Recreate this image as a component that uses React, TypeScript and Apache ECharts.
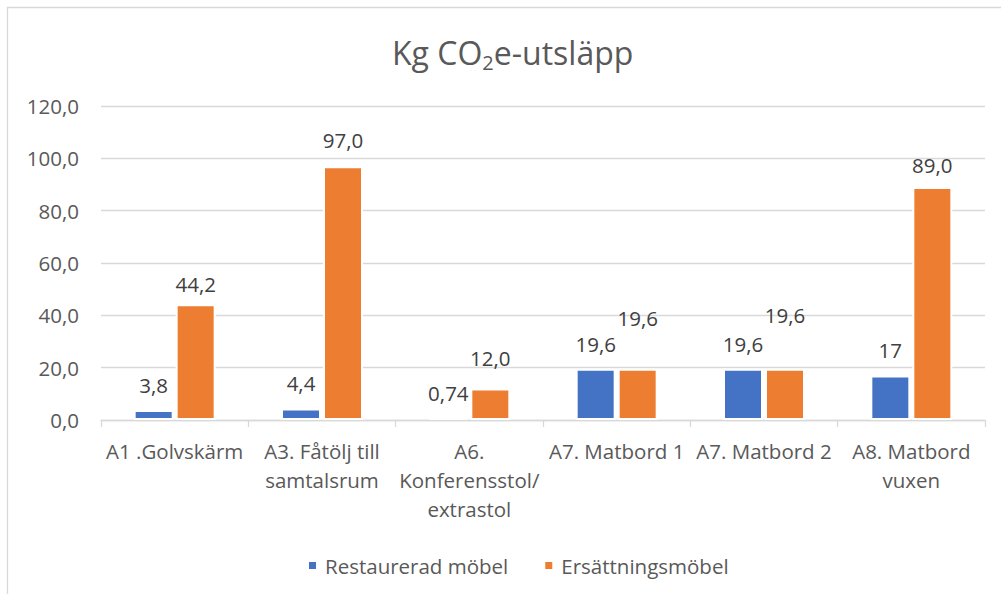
import React, { useEffect, useRef } from "react";
import * as echarts from "echarts";

const categories = [
  "A1 .Golvskärm",
  "A3. Fåtölj till\nsamtalsrum",
  "A6.\nKonferensstol/\nextrastol",
  "A7. Matbord 1",
  "A7. Matbord 2",
  "A8. Matbord\nvuxen",
];
const seriesNames = ["Restaurerad möbel", "Ersättningsmöbel"];
const restaurerad = [3.8, 4.4, 0.74, 19.6, 19.6, 17];
const ersattning = [44.2, 97.0, 12.0, 19.6, 19.6, 89.0];
const yTicks = { min: 0, max: 120, interval: 20 };

// label vertical nudges (layout only)
const blueLabelDy = [0, 0, 0, 0, 0, -1];
const orangeLabelDy = [5, -1, -6, -26, -29, 3];

const FONT = "'Open Sans', sans-serif";
const GRAY = "#595959";
const DARK = "#404040";
const FS = 20.5;

export default function App() {
  const ref = useRef<HTMLDivElement>(null);
  useEffect(() => {
    if (!ref.current) return;
    const chart = echarts.init(ref.current, undefined, { renderer: "svg" });
    const labelBase = {
      show: true,
      position: "top",
      distance: 14,
      fontFamily: FONT,
      fontSize: FS,
      lineHeight: 22,
      color: DARK,
    };
    chart.setOption({
      animation: false,
      backgroundColor: "#fff",
      textStyle: { fontFamily: FONT },
      title: {
        left: 387,
        top: 27,
        text: "{a|Kg CO}{b|2}{a|e-utsläpp}",
        textStyle: {
          fontWeight: "normal",
          rich: {
            a: { fontFamily: FONT, fontSize: 32, fontWeight: "normal", color: GRAY, lineHeight: 40 },
            b: { fontFamily: FONT, fontSize: 20, fontWeight: "normal", color: GRAY, lineHeight: 26, verticalAlign: "bottom" },
          },
        },
      },
      graphic: [
        {
          type: "rect",
          shape: { x: 7.5, y: 7.5, width: 1200, height: 800 },
          style: { fill: "none", stroke: "#d9d9d9", lineWidth: 1.3 },
          silent: true,
        },
      ],
      legend: {
        left: 302,
        top: 550,
        itemWidth: 9,
        itemHeight: 9,
        itemGap: 35,
        icon: "rect",
        textStyle: { fontFamily: FONT, fontSize: FS, color: GRAY, padding: [0, 0, 0, 3] },
        data: seriesNames,
      },
      grid: { left: 101, right: 16, top: 106, bottom: 174, containLabel: false },
      xAxis: {
        type: "category",
        data: categories,
        axisLine: { lineStyle: { color: "#d9d9d9", width: 1.3 } },
        axisTick: { show: true, length: 7, lineStyle: { color: "#d9d9d9", width: 1.3 } },
        axisLabel: {
          interval: 0,
          margin: 16,
          fontFamily: FONT,
          fontSize: FS,
          lineHeight: 29,
          color: GRAY,
        },
      },
      yAxis: {
        type: "value",
        min: yTicks.min,
        max: yTicks.max,
        interval: yTicks.interval,
        axisLine: { show: false },
        axisTick: { show: false },
        splitLine: { lineStyle: { color: "#d9d9d9", width: 1.3 } },
        axisLabel: {
          margin: 22,
          fontFamily: FONT,
          fontSize: FS,
          color: GRAY,
          formatter: (v: number) => v.toFixed(1).replace(".", ","),
        },
      },
      series: [
        {
          name: seriesNames[0],
          type: "bar",
          barWidth: 40,
          barGap: "5%",
          itemStyle: { color: "#4472C4", borderColor: "#fff", borderWidth: 2 },
          data: restaurerad.map((v, i) => ({
            value: v,
            label: { ...labelBase, offset: [0, blueLabelDy[i]] },
          })),
          label: {
            ...labelBase,
            formatter: (p: any) => String(p.value).replace(".", ","),
          },
        },
        {
          name: seriesNames[1],
          type: "bar",
          barWidth: 40,
          barGap: "5%",
          itemStyle: { color: "#ED7D31", borderColor: "#fff", borderWidth: 2 },
          data: ersattning.map((v, i) => ({
            value: v,
            label: { ...labelBase, offset: [0, orangeLabelDy[i]] },
          })),
          label: {
            ...labelBase,
            formatter: (p: any) => Number(p.value).toFixed(1).replace(".", ","),
          },
        },
      ],
    });
    return () => chart.dispose();
  }, []);
  return (
    <div
      ref={ref}
      style={{ position: "fixed", left: 0, top: 0, width: 1001, height: 594 }}
    />
  );
}
